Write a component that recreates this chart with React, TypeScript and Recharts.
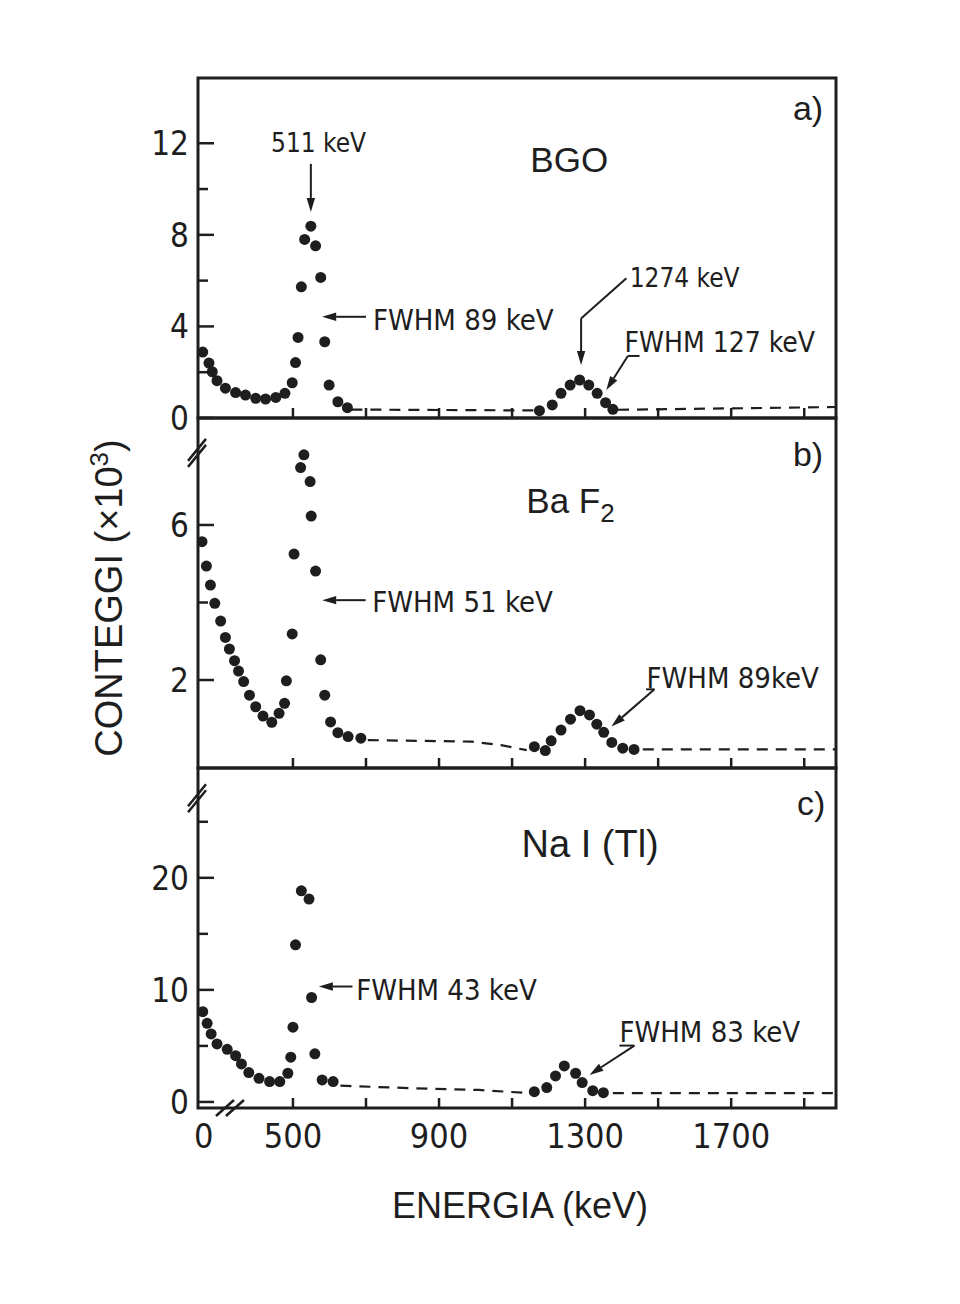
import React from "react";
import {
  ScatterChart,
  Scatter,
  XAxis,
  YAxis,
  ReferenceLine,
  ReferenceDot,
  ReferenceArea,
  Label,
} from "recharts";

type Pt = [number, number];

// ---- energy axis (keV) ----
const E_DOMAIN: [number, number] = [240, 1987];
const E_TICKS = [500, 700, 900, 1100, 1300, 1500, 1700, 1900];
const E_ZERO = 256; // the broken axis shows "0" here
const E_LABELS = [500, 900, 1300, 1700];

// ---- a) BGO ----
const bgoDomain: [number, number] = [0, 14.85];
const bgoTicks = [0, 2, 4, 6, 8, 10, 12];
const bgoLabels = [0, 4, 8, 12];
const bgoDots: Pt[] = [
  [253, 2.88], [270, 2.4], [279, 2.02], [292, 1.63], [315, 1.3], [343, 1.11],
  [370, 1.0], [398, 0.86], [425, 0.83], [453, 0.9], [478, 1.08], [498, 1.54],
  [507, 2.42], [514, 3.52], [523, 5.73], [532, 7.8], [549, 8.38], [562, 7.52],
  [576, 6.14], [587, 3.33], [599, 1.44], [623, 0.71], [649, 0.45],
  [1175, 0.32], [1210, 0.57], [1234, 1.08], [1259, 1.44], [1285, 1.66],
  [1310, 1.44], [1333, 1.08], [1356, 0.67], [1376, 0.38],
];
const bgoDashLow: Pt[] = [[660, 0.37], [900, 0.35], [1168, 0.33]];
const bgoDashHigh: Pt[] = [[1390, 0.36], [1700, 0.42], [1987, 0.48]];

// ---- b) BaF2 ----
const bafDomain: [number, number] = [-0.27, 8.76];
const bafTicks = [2, 4, 6];
const bafLabels = [2, 6];
const bafDots: Pt[] = [
  [251, 5.57], [263, 4.94], [274, 4.45], [286, 3.98], [302, 3.52], [315, 3.1],
  [326, 2.8], [340, 2.5], [351, 2.23], [365, 1.96], [381, 1.61], [398, 1.31],
  [418, 1.07], [442, 0.91], [462, 1.14], [477, 1.4], [482, 1.98], [498, 3.19],
  [503, 5.25], [521, 7.48], [530, 7.81], [547, 7.12], [550, 6.23], [562, 4.81],
  [576, 2.52], [587, 1.61], [603, 0.92], [623, 0.64], [651, 0.54], [686, 0.5],
  [1161, 0.28], [1191, 0.18], [1207, 0.43], [1234, 0.71], [1260, 0.99],
  [1286, 1.21], [1312, 1.1], [1332, 0.86], [1351, 0.65], [1373, 0.39],
  [1403, 0.24], [1434, 0.21],
];
const bafDashLow: Pt[] = [[705, 0.45], [990, 0.41], [1070, 0.32], [1140, 0.19]];
const bafDashHigh: Pt[] = [[1458, 0.21], [1987, 0.21]];

// ---- c) NaI(Tl) ----
const naiDomain: [number, number] = [-0.54, 29.8];
const naiTicks = [0, 5, 10, 15, 20, 25];
const naiLabels = [0, 10, 20];
const naiDots: Pt[] = [
  [253, 8.06], [265, 7.02], [276, 6.07], [292, 5.18], [320, 4.7], [343, 4.13],
  [359, 3.39], [379, 2.62], [407, 2.11], [436, 1.82], [464, 1.82], [486, 2.56],
  [494, 3.99], [500, 6.67], [507, 14.02], [523, 18.84], [544, 18.1], [551, 9.32],
  [560, 4.29], [580, 1.96], [610, 1.82],
  [1161, 0.92], [1195, 1.28], [1219, 2.32], [1243, 3.21], [1274, 2.56],
  [1292, 1.73], [1321, 1.01], [1350, 0.83],
];
const naiDashLow: Pt[] = [[630, 1.45], [830, 1.22], [1010, 1.07], [1140, 0.8]];
const naiDashHigh: Pt[] = [[1376, 0.78], [1987, 0.78]];

// ---- page geometry ----
const W = 960;
const H = 1304;
const PLOT_LEFT = 198;
const PLOT_RIGHT = 836;
const Y_AXIS_W = 100;
const X_TITLE_H = 120;
const INK = "#1e1e1e";
const NARROW = "'Liberation Sans Narrow', 'DejaVu Sans Condensed', 'Liberation Sans', sans-serif";
const SANS = "'Liberation Sans', 'DejaVu Sans', sans-serif";

const rows = (pts: Pt[]) => pts.map(([e, v]) => ({ e, v }));

type Note = { e: number; v: number; text: React.ReactNode; size: number; font?: string };
type Arrow = Pt[];

const Dot = (p: any) => <circle cx={p.cx} cy={p.cy} r={5.5} fill={INK} />;

const ArrowLine = (p: any) => {
  const { x1, y1, x2, y2 } = p;
  const a = Math.atan2(y2 - y1, x2 - x1);
  const len = 14;
  const half = 4.2;
  const bx = x2 - len * Math.cos(a);
  const by = y2 - len * Math.sin(a);
  const nx = -Math.sin(a) * half;
  const ny = Math.cos(a) * half;
  return (
    <g>
      <line x1={x1} y1={y1} x2={bx} y2={by} stroke={INK} strokeWidth={2} />
      <polygon points={`${x2},${y2} ${bx + nx},${by + ny} ${bx - nx},${by - ny}`} fill={INK} />
    </g>
  );
};

const VBreak = (p: any) => (
  <g stroke={INK} strokeWidth={2.5}>
    <line x1={p.cx - 10} y1={p.cy + 8} x2={p.cx + 8} y2={p.cy - 14} />
    <line x1={p.cx - 10} y1={p.cy + 14} x2={p.cx + 8} y2={p.cy - 8} />
  </g>
);

const HBreak = (p: any) => (
  <g stroke={INK} strokeWidth={2.5}>
    <line x1={p.cx - 16} y1={p.cy + 8} x2={p.cx + 2} y2={p.cy - 8} />
    <line x1={p.cx - 6} y1={p.cy + 8} x2={p.cx + 12} y2={p.cy - 8} />
  </g>
);

const Y_MARGIN = 9;

// inward tick (long if labelled) with the label outside the frame
const makeYTick = (labels: number[]) => (p: any) => {
  const { x, y, payload } = p;
  const v = payload.value;
  const major = labels.includes(v);
  const ax = x + Y_MARGIN;
  return (
    <g>
      <line x1={ax} x2={ax + (major ? 16 : 10)} y1={y} y2={y} stroke={INK} strokeWidth={2.5} />
      {major && (
        <text x={x} y={y} dy="0.36em" textAnchor="end" fontSize={33} fill={INK} fontFamily={NARROW}>
          {v}
        </text>
      )}
    </g>
  );
};

const EnergyTick = (p: any) => {
  const { x, y, payload } = p;
  const v = payload.value;
  const text = v === E_ZERO ? "0" : E_LABELS.includes(v) ? String(v) : "";
  return (
    <g>
      {v !== E_ZERO && (
        <line x1={x} x2={x} y1={y - 16} y2={y - 26} stroke={INK} strokeWidth={2.5} />
      )}
      <text x={x} y={y} dy="0.71em" textAnchor="middle" fontSize={34} fill={INK} fontFamily={NARROW}>
        {text}
      </text>
    </g>
  );
};

const XTitle = (p: any) => {
  const vb = p.viewBox;
  return (
    <text x={vb.x + vb.width / 2 + 3} y={vb.y + 110} textAnchor="middle" fontSize={36} fill={INK} fontFamily={SANS}>
      ENERGIA (keV)
    </text>
  );
};

const YTitle = (p: any) => {
  const vb = p.viewBox;
  const cx = vb.x + 24;
  const cy = vb.y + vb.height / 2 + 5;
  return (
    <text x={cx} y={cy} transform={`rotate(-90 ${cx} ${cy})`} textAnchor="middle" fontSize={38} fill={INK} fontFamily={SANS}>
      CONTEGGI (×10<tspan dy={-14} fontSize={26}>3</tspan>
      <tspan dy={14}>)</tspan>
    </text>
  );
};

type PanelProps = {
  top: number;
  bottom: number;
  yDomain: [number, number];
  yTicks: number[];
  yLabels: number[];
  dots: Pt[];
  dashes: Pt[][];
  notes: Note[];
  arrows: Arrow[];
  vBreaks?: number[];
  hBreaks?: number[];
  last?: boolean;
  yTitle?: boolean;
};

function Panel(p: PanelProps) {
  const xH = p.last ? X_TITLE_H : 1;
  const margin = {
    top: p.top,
    bottom: H - p.bottom - xH,
    left: PLOT_LEFT - Y_AXIS_W,
    right: W - PLOT_RIGHT,
  };
  return (
    <div style={{ position: "absolute", left: 0, top: 0 }}>
      <ScatterChart width={W} height={H} margin={margin}>
        {p.last ? (
          <XAxis
            type="number"
            dataKey="e"
            domain={E_DOMAIN}
            allowDataOverflow
            ticks={[E_ZERO, ...E_TICKS]}
            interval={0}
            height={xH}
            axisLine={false}
            tickLine={false}
            tickSize={0}
            tickMargin={16}
            tick={EnergyTick}
          >
            <Label content={XTitle} />
          </XAxis>
        ) : (
          <XAxis
            type="number"
            dataKey="e"
            domain={E_DOMAIN}
            allowDataOverflow
            ticks={E_TICKS}
            interval={0}
            height={xH}
            axisLine={false}
            tickSize={-10}
            tickFormatter={() => ""}
            tickLine={{ stroke: INK, strokeWidth: 2.5 }}
          />
        )}
        <YAxis
          type="number"
          dataKey="v"
          domain={p.yDomain}
          allowDataOverflow
          ticks={p.yTicks}
          interval={0}
          width={Y_AXIS_W}
          axisLine={false}
          tickLine={false}
          tickSize={0}
          tickMargin={Y_MARGIN}
          tick={makeYTick(p.yLabels)}
        >
          {p.yTitle ? <Label content={YTitle} /> : null}
        </YAxis>

        <ReferenceArea
          x1={E_DOMAIN[0]}
          x2={E_DOMAIN[1]}
          y1={p.yDomain[0]}
          y2={p.yDomain[1]}
          fill="none"
          fillOpacity={0}
          stroke={INK}
          strokeWidth={3}
          ifOverflow="visible"
        />

        {p.dashes.map((d, i) => (
          <Scatter
            key={`dash${i}`}
            data={rows(d)}
            line={{ stroke: INK, strokeWidth: 2.2, strokeDasharray: "11 8" }}
            shape={() => <g />}
            isAnimationActive={false}
          />
        ))}
        <Scatter data={rows(p.dots)} shape={Dot} isAnimationActive={false} />

        {p.arrows.map((path, i) =>
          path.slice(1).map((pt, j) => (
            <ReferenceLine
              key={`ar${i}-${j}`}
              segment={[{ x: path[j][0], y: path[j][1] }, { x: pt[0], y: pt[1] }]}
              stroke={INK}
              strokeWidth={2}
              ifOverflow="visible"
              shape={j === path.length - 2 ? ArrowLine : undefined}
            />
          ))
        )}

        {p.notes.map((n, i) => (
          <ReferenceDot
            key={`note${i}`}
            x={n.e}
            y={n.v}
            r={0}
            ifOverflow="visible"
            shape={(s: any) => (
              <text x={s.cx} y={s.cy} fontSize={n.size} fill={INK} fontFamily={n.font ?? NARROW}>
                {n.text}
              </text>
            )}
          />
        ))}

        {(p.vBreaks ?? []).map((v, i) => (
          <ReferenceDot key={`vb${i}`} x={E_DOMAIN[0]} y={v} r={0} ifOverflow="visible" shape={VBreak} />
        ))}
        {(p.hBreaks ?? []).map((e, i) => (
          <ReferenceDot key={`hb${i}`} x={e} y={p.yDomain[0]} r={0} ifOverflow="visible" shape={HBreak} />
        ))}
      </ScatterChart>
    </div>
  );
}

const bgoNotes: Note[] = [
  { e: 440, v: 11.62, text: "511 keV", size: 26 },
  { e: 1150, v: 10.74, text: "BGO", size: 35, font: SANS },
  { e: 1869, v: 13.01, text: "a)", size: 34, font: SANS },
  { e: 719, v: 3.84, text: "FWHM 89 keV", size: 29 },
  { e: 1422, v: 5.72, text: "1274 keV", size: 26 },
  { e: 1408, v: 2.88, text: "FWHM 127 keV", size: 28 },
];
const bgoArrows: Arrow[] = [
  [[549, 11.1], [549, 9.0]],
  [[700, 4.42], [580, 4.42]],
  [[1413, 6.1], [1289, 4.35], [1289, 2.31]],
  [[1449, 2.71], [1417, 2.71], [1358, 1.22]],
];

const bafNotes: Note[] = [
  { e: 1869, v: 7.52, text: "b)", size: 34, font: SANS },
  {
    e: 1139,
    v: 6.3,
    text: (
      <>
        Ba F<tspan dy={9} fontSize={26}>2</tspan>
      </>
    ),
    size: 35,
    font: SANS,
  },
  { e: 717, v: 3.75, text: "FWHM 51 keV", size: 29 },
  { e: 1468, v: 1.79, text: "FWHM 89keV", size: 29 },
];
const bafArrows: Arrow[] = [
  [[699, 4.06], [580, 4.06]],
  [[1467, 1.76], [1490, 1.76], [1372, 0.8]],
];

const naiNotes: Note[] = [
  { e: 1880, v: 25.6, text: "c)", size: 34, font: SANS },
  { e: 1126, v: 21.85, text: "Na I (Tl)", size: 38, font: SANS },
  { e: 673, v: 9.1, text: "FWHM 43 keV", size: 29 },
  { e: 1394, v: 5.36, text: "FWHM 83 keV", size: 29 },
];
const naiArrows: Arrow[] = [
  [[663, 10.3], [571, 10.3]],
  [[1394, 5.03], [1435, 5.03], [1312, 2.41]],
];

export default function App() {
  return (
    <div style={{ position: "absolute", left: 0, top: 0, width: W, height: H, background: "#fff" }}>
      <Panel
        top={78}
        bottom={418}
        yDomain={bgoDomain}
        yTicks={bgoTicks}
        yLabels={bgoLabels}
        dots={bgoDots}
        dashes={[bgoDashLow, bgoDashHigh]}
        notes={bgoNotes}
        arrows={bgoArrows}
      />
      <Panel
        top={418}
        bottom={768}
        yDomain={bafDomain}
        yTicks={bafTicks}
        yLabels={bafLabels}
        dots={bafDots}
        dashes={[bafDashLow, bafDashHigh]}
        notes={bafNotes}
        arrows={bafArrows}
        vBreaks={[7.86]}
        yTitle
      />
      <Panel
        top={768}
        bottom={1108}
        yDomain={naiDomain}
        yTicks={naiTicks}
        yLabels={naiLabels}
        dots={naiDots}
        dashes={[naiDashLow, naiDashHigh]}
        notes={naiNotes}
        arrows={naiArrows}
        vBreaks={[27.1]}
        hBreaks={[333]}
        last
      />
    </div>
  );
}
